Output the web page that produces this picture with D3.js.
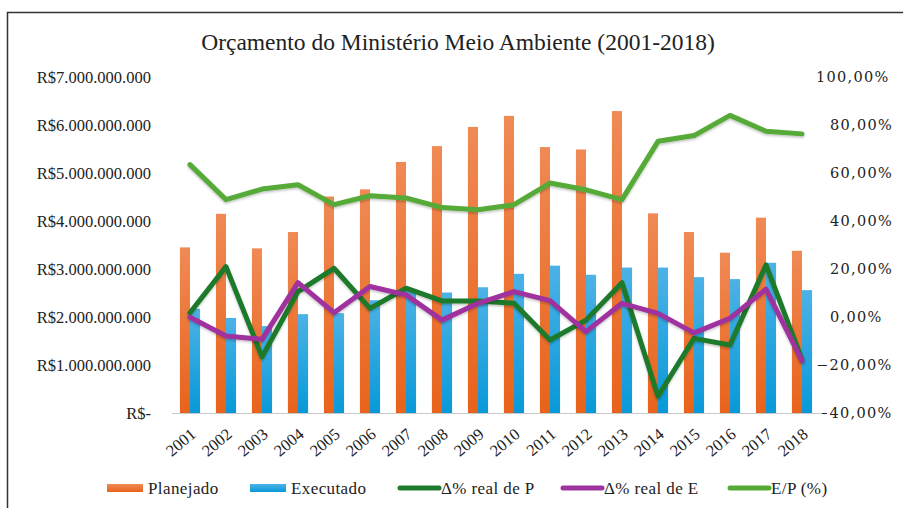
<!DOCTYPE html>
<html>
<head>
<meta charset="utf-8">
<script src="https://cdn.jsdelivr.net/npm/d3@7"></script>
<style>
  body { margin: 0; background: #fff; }
  svg { display: block; }
  text { font-family: "Liberation Serif", "Times New Roman", serif; fill: #222; }
</style>
</head>
<body>
<div id="grafico"></div>
<script>
const anos = ["2001", "2002", "2003", "2004", "2005", "2006", "2007", "2008", "2009",
              "2010", "2011", "2012", "2013", "2014", "2015", "2016", "2017", "2018"];

const planejado = [3.45e9, 4.15e9, 3.43e9, 3.77e9, 4.51e9, 4.66e9, 5.23e9, 5.56e9, 5.96e9,
                   6.19e9, 5.54e9, 5.49e9, 6.29e9, 4.16e9, 3.77e9, 3.34e9, 4.07e9, 3.38e9];
const executado = [2.17e9, 1.98e9, 1.81e9, 2.06e9, 2.08e9, 2.35e9, 2.55e9, 2.51e9, 2.62e9,
                   2.90e9, 3.07e9, 2.88e9, 3.03e9, 3.03e9, 2.83e9, 2.79e9, 3.13e9, 2.56e9];

const varP = [0.018, 0.210, -0.166, 0.106, 0.203, 0.036, 0.120, 0.067, 0.067,
              0.057, -0.096, -0.013, 0.143, -0.330, -0.089, -0.117, 0.217, -0.177];
const varE = [-0.001, -0.079, -0.093, 0.143, 0.018, 0.127, 0.092, -0.013, 0.057,
              0.106, 0.068, -0.061, 0.057, 0.015, -0.066, -0.005, 0.116, -0.182];
const razaoEP = [0.635, 0.489, 0.533, 0.551, 0.468, 0.505, 0.496, 0.456, 0.447,
                 0.468, 0.558, 0.530, 0.489, 0.732, 0.756, 0.840, 0.774, 0.763];

const ticksEsq = [0, 1e9, 2e9, 3e9, 4e9, 5e9, 6e9, 7e9];
const ticksDir = [-0.4, -0.2, 0, 0.2, 0.4, 0.6, 0.8, 1.0];

const legenda = ["Planejado", "Executado", "\u0394% real de P", "\u0394% real de E", "E/P (%)"];

const width = 903, height = 508;
const cores = { p: "#ec6e2a", e: "#1ea3de", varP: "#1e7a2c", varE: "#a0329f", ep: "#56ab37" };

const br = d3.formatLocale({ decimal: ",", thousands: ".", grouping: [3], currency: ["R$", ""] });
const fmtReal = v => v === 0 ? "R$-" : br.format("$,.0f")(v);
const fmtPct = br.format(".2%");

const svg = d3.select("#grafico").append("svg")
    .attr("width", width)
    .attr("height", height);

const defs = svg.append("defs");
function gradiente(id, topo, base) {
    const g = defs.append("linearGradient").attr("id", id)
        .attr("x1", 0).attr("y1", 0).attr("x2", 0).attr("y2", 1);
    g.append("stop").attr("offset", "0%").attr("stop-color", topo);
    g.append("stop").attr("offset", "100%").attr("stop-color", base);
}
gradiente("gradP", "#f08a55", "#e8631b");
gradiente("gradE", "#4db2e6", "#0899d8");

const sombra = defs.append("filter").attr("id", "sombra")
    .attr("x", "-10%").attr("y", "-10%").attr("width", "120%").attr("height", "130%");
sombra.append("feDropShadow").attr("dx", 0).attr("dy", 1.5).attr("stdDeviation", 1.2)
    .attr("flood-color", "#000").attr("flood-opacity", 0.25);

// moldura
svg.append("path")
    .attr("d", `M7.5,${height} V12.5 H${width}`)
    .attr("fill", "none")
    .attr("stroke", "#333")
    .attr("stroke-width", 1.5);

svg.append("text")
    .attr("x", 458)
    .attr("y", 50)
    .attr("text-anchor", "middle")
    .style("font-size", "23.5px")
    .text("Or\u00e7amento do Minist\u00e9rio Meio Ambiente (2001-2018)");

const plot = { left: 172, right: 820, top: 77, bottom: 413 };

const x0 = d3.scaleBand().domain(anos).range([plot.left, plot.right])
    .paddingInner(0.44).paddingOuter(0.22);
const x1 = d3.scaleBand().domain(["p", "e"]).range([0, x0.bandwidth()]);
const yEsq = d3.scaleLinear().domain([0, 7e9]).range([plot.bottom, plot.top]);
const yDir = d3.scaleLinear().domain([-0.4, 1.0]).range([plot.bottom, plot.top]);

const eixoEsq = svg.append("g")
    .attr("transform", "translate(151,0)")
    .call(d3.axisLeft(yEsq).tickValues(ticksEsq).tickFormat(fmtReal).tickSize(0).tickPadding(0));
eixoEsq.select(".domain").remove();
eixoEsq.selectAll("text")
    .style("font-family", "'Liberation Serif', 'Times New Roman', serif")
    .style("font-size", "16.5px")
    .attr("fill", "#222");

const eixoDir = svg.append("g")
    .attr("transform", "translate(830,0)")
    .call(d3.axisRight(yDir).tickValues(ticksDir).tickFormat(fmtPct).tickSize(0).tickPadding(0));
eixoDir.select(".domain").remove();
eixoDir.selectAll("text")
    .style("font-family", "'DejaVu Serif', serif")
    .style("font-size", "14.5px")
    .style("letter-spacing", "1.3px")
    .attr("fill", "#222")
    .attr("dx", d => (d < 0 || d >= 1) ? -14 : 0);

const dados = anos.map((a, i) => ({ ano: a, p: planejado[i], e: executado[i] }));

const grupos = svg.append("g").selectAll("g")
    .data(dados)
    .join("g")
    .attr("transform", d => `translate(${x0(d.ano)},0)`);

grupos.selectAll("rect")
    .data(d => [{ k: "p", v: d.p }, { k: "e", v: d.e }])
    .join("rect")
    .attr("x", d => x1(d.k))
    .attr("y", d => yEsq(d.v))
    .attr("width", x1.bandwidth())
    .attr("height", d => yEsq(0) - yEsq(d.v))
    .attr("fill", d => d.k === "p" ? "url(#gradP)" : "url(#gradE)");

svg.append("line")
    .attr("x1", plot.left).attr("x2", plot.right + 2)
    .attr("y1", plot.bottom + 0.5).attr("y2", plot.bottom + 0.5)
    .attr("stroke", "#c8c8c8")
    .attr("stroke-width", 1);

const eixoX = svg.append("g")
    .attr("transform", `translate(0,${plot.bottom})`)
    .call(d3.axisBottom(x0).tickSize(0).tickPadding(0));
eixoX.select(".domain").remove();
eixoX.selectAll("text")
    .style("font-family", "'Liberation Serif', 'Times New Roman', serif")
    .style("font-size", "16.5px")
    .attr("fill", "#222")
    .attr("text-anchor", "end")
    .attr("dy", null)
    .attr("y", 0)
    .attr("transform", "translate(7,23) rotate(-40)");

const linha = d3.line()
    .x((d, i) => x0(anos[i]) + x0.bandwidth() / 2)
    .y(d => yDir(d));

const series = [
    { v: varP, cor: cores.varP },
    { v: varE, cor: cores.varE },
    { v: razaoEP, cor: cores.ep }
];

svg.append("g").selectAll("path")
    .data(series)
    .join("path")
    .attr("d", d => linha(d.v))
    .attr("fill", "none")
    .attr("stroke", d => d.cor)
    .attr("stroke-width", 5)
    .attr("stroke-linejoin", "round")
    .attr("stroke-linecap", "round")
    .attr("filter", "url(#sombra)");

// legenda
const posLeg = [107, 250, 399, 562, 729];
const tipoLeg = ["bar", "bar", "line", "line", "line"];
const corLeg = [cores.p, cores.e, cores.varP, cores.varE, cores.ep];

const leg = svg.append("g").selectAll("g")
    .data(legenda)
    .join("g")
    .attr("transform", (d, i) => `translate(${posLeg[i]},488)`);

leg.each(function(d, i) {
    const g = d3.select(this);
    if (tipoLeg[i] === "bar") {
        g.append("rect").attr("x", 0).attr("y", -4).attr("width", 36).attr("height", 8)
            .attr("fill", i === 0 ? "url(#gradP)" : "url(#gradE)");
        g.append("text").attr("x", 41).attr("y", 6).style("font-size", "17px")
            .style("letter-spacing", "0.4px").text(d);
    } else {
        g.append("line").attr("x1", 1).attr("x2", 40).attr("y1", 0).attr("y2", 0)
            .attr("stroke", corLeg[i]).attr("stroke-width", 5).attr("stroke-linecap", "round");
        g.append("text").attr("x", 42).attr("y", 6).style("font-size", "17px")
            .style("letter-spacing", "0.4px").text(d);
    }
});
</script>
</body>
</html>
